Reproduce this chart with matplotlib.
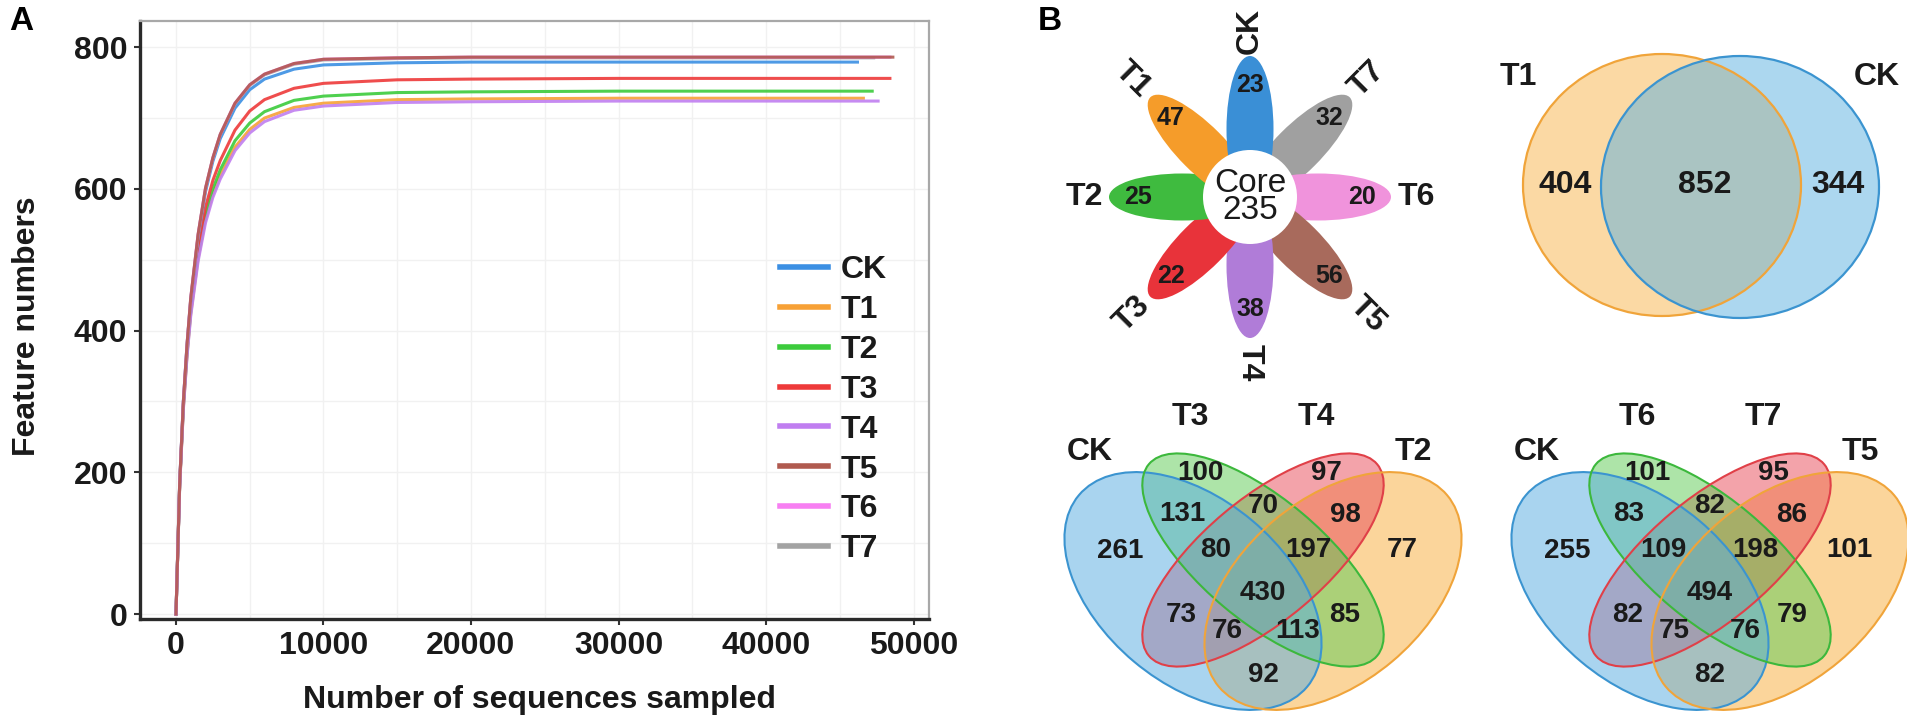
import matplotlib
matplotlib.use('Agg')
import matplotlib.pyplot as plt
from matplotlib.patches import Ellipse, Circle
import numpy as np

plt.rcParams['font.family'] = ['Liberation Sans', 'DejaVu Sans']

# ---------------- data ----------------
groups = ['CK', 'T1', 'T2', 'T3', 'T4', 'T5', 'T6', 'T7']
line_colors = ['#3b8fe3', '#f7a136', '#3ccb3c', '#ee3a3a', '#c07ef0', '#b05a4f', '#f77ff2', '#a3a3a3']

depth_steps = [0, 250, 500, 750, 1000, 1500, 2000, 2500, 3000, 4000, 5000, 6000,
               8000, 10000, 15000, 20000, 30000, 40000]
end_depth = [46200, 46600, 47200, 48400, 47600, 48600, 48400, 47300]

feat_CK = [0, 185, 300, 380, 443, 532, 596, 639, 671, 714, 740, 755, 769, 775, 778, 779, 779, 779, 779]
feat_T1 = [0, 181, 291, 366, 424, 502, 557, 593, 619, 659, 684, 700, 715, 721, 726, 727, 728, 728, 728]
feat_T2 = [0, 182, 293, 369, 428, 507, 563, 600, 627, 668, 693, 709, 725, 731, 736, 737, 738, 738, 738]
feat_T3 = [0, 183, 296, 373, 433, 515, 574, 612, 640, 683, 710, 726, 742, 749, 754, 755, 756, 756, 756]
feat_T4 = [0, 180, 289, 364, 421, 498, 552, 588, 614, 654, 679, 695, 711, 717, 722, 723, 724, 724, 724]
feat_T5 = [0, 185, 300, 381, 446, 536, 601, 644, 677, 721, 747, 762, 777, 783, 785, 786, 786, 786, 786]
feat_T6 = [0, 185, 300, 381, 446, 536, 601, 644, 677, 721, 747, 762, 777, 783, 785, 786, 786, 786, 786]
feat_T7 = [0, 185, 300, 380, 445, 535, 600, 643, 676, 720, 746, 761, 776, 782, 784, 785, 785, 785, 785]
features = [feat_CK, feat_T1, feat_T2, feat_T3, feat_T4, feat_T5, feat_T6, feat_T7]

x_ticks = [0, 10000, 20000, 30000, 40000, 50000]
y_ticks = [0, 200, 400, 600, 800]

# flower
petal_counts = [23, 47, 25, 22, 38, 56, 20, 32]   # CK, T1..T7
core_count = 235
petal_colors = ['#3a8fd6', '#f59c2a', '#3fbb3f', '#e8333a', '#b07cd8', '#a86a5c', '#f093dc', '#a0a0a0']

# two-set venn
venn2_labels = ['T1', 'CK']
venn2_counts = [404, 852, 344]

# four-set venns (regions: A, B, C, D, AB, BC, CD, ABC, BCD, ABCD, AC, BD, ACD, ABD, AD)
venn4a_labels = ['CK', 'T3', 'T4', 'T2']
venn4a_counts = [261, 100, 97, 77, 131, 70, 98, 80, 197, 430, 73, 85, 76, 113, 92]
venn4b_labels = ['CK', 'T6', 'T7', 'T5']
venn4b_counts = [255, 101, 95, 101, 83, 82, 86, 109, 198, 494, 82, 79, 75, 76, 82]

# ---------------- figure ----------------
W, H = 1908, 726
fig = plt.figure(figsize=(W / 100, H / 100), dpi=100)
TXT = '#1a1a1a'

# ---- Panel A ----
L, R, T, B = 140, 929, 21, 619
axA = fig.add_axes([L / W, (H - B) / H, (R - L) / W, (B - T) / H])
zorders = [3, 2, 2, 2, 2, 5, 4, 3]
for g, c, f, e, z in zip(groups, line_colors, features, end_depth, zorders):
    xs = depth_steps + [e]
    axA.plot(xs, f, color=c, lw=2.2, alpha=0.9, zorder=z, label=g)
axA.set_xlim(-2440, 51050)
axA.set_ylim(-7, 837)
axA.set_xticks(x_ticks)
axA.set_yticks(y_ticks)
axA.set_xticks(np.arange(0, 50001, 5000), minor=True)
axA.set_yticks(np.arange(0, 801, 100), minor=True)
axA.grid(which='both', color='#f1f1f1', lw=1.0)
axA.set_axisbelow(True)
for s in ['top', 'right']:
    axA.spines[s].set_color('#a8a8a8')
    axA.spines[s].set_linewidth(1.6)
for s in ['left', 'bottom']:
    axA.spines[s].set_color('#2a2a2a')
    axA.spines[s].set_linewidth(2.4)
axA.tick_params(which='major', length=4, width=1.5, color='#333333', labelsize=23, pad=5,
                labelcolor=TXT)
axA.tick_params(which='minor', length=0)
for lab in axA.get_xticklabels() + axA.get_yticklabels():
    lab.set_fontweight('bold')
axA.set_xlabel('Number of sequences sampled', fontsize=23, fontweight='bold', color=TXT)
axA.set_ylabel('Feature numbers', fontsize=23, fontweight='bold', color=TXT)
axA.xaxis.set_label_coords(0.506, -0.135)
axA.xaxis.label.set_va('center')
axA.yaxis.set_label_coords(-0.143, 0.49)
axA.yaxis.label.set_va('center')
leg = axA.legend(loc='center left', bbox_to_anchor=(0.811, 0.35), frameon=False,
                 fontsize=23, handlelength=1.5, handletextpad=0.4, labelspacing=0.31,
                 borderpad=0, borderaxespad=0)
for h in leg.get_lines():
    h.set_linewidth(4)
    h.set_alpha(1)
for t in leg.get_texts():
    t.set_fontweight('bold')
    t.set_color(TXT)

fig.text(21 / W, 1 - 22 / H, 'A', ha='center', va='center', fontsize=24, fontweight='bold')
fig.text(1050 / W, 1 - 22 / H, 'B', ha='center', va='center', fontsize=24, fontweight='bold')

# ---- Panel B (pixel coordinate overlay) ----
axB = fig.add_axes([0, 0, 1, 1])
axB.set_xlim(0, W)
axB.set_ylim(H, 0)
axB.axis('off')

# flower
fcx, fcy = 1250, 197
petal_angles = [90, 135, 180, 225, 270, 315, 0, 45]
draw_order = [7, 6, 5, 4, 3, 2, 1, 0]
for i in draw_order:
    ang = np.deg2rad(petal_angles[i])
    d = 68
    ex, ey = fcx + d * np.cos(ang), fcy - d * np.sin(ang)
    axB.add_patch(Ellipse((ex, ey), 146, 47, angle=-petal_angles[i],
                          facecolor=petal_colors[i], edgecolor='none', zorder=2))
axB.add_patch(Circle((fcx, fcy), 47, facecolor='white', edgecolor='none', zorder=3))
for i in range(8):
    a = petal_angles[i]
    ang = np.deg2rad(a)
    r = 112
    axB.text(fcx + r * np.cos(ang), fcy - r * np.sin(ang), str(petal_counts[i]),
             ha='center', va='center', fontsize=18, fontweight='bold', color=TXT, zorder=4)
    rl = 166
    rot = a if (a <= 90 or a >= 270) else a - 180
    axB.text(fcx + rl * np.cos(ang), fcy - rl * np.sin(ang), groups[i],
             ha='center', va='center', rotation=rot, rotation_mode='anchor',
             fontsize=23, fontweight='bold', color=TXT, zorder=4)
axB.text(fcx, fcy, 'Core\n' + str(core_count), ha='center', va='center', fontsize=24,
         linespacing=0.85, multialignment='center', color=TXT, zorder=4)

# two-set venn
v2_centers = [(1662, 185), (1740, 187)]
v2_fill = ['#f9b54a', '#5ab0e0']
v2_edge = ['#f0a43a', '#3b94d0']
for (cx, cy), fc in zip(v2_centers, v2_fill):
    axB.add_patch(Ellipse((cx, cy), 278, 262, facecolor=fc, alpha=0.5, edgecolor='none', zorder=2))
for (cx, cy), ec in zip(v2_centers, v2_edge):
    axB.add_patch(Ellipse((cx, cy), 278, 262, facecolor='none', edgecolor=ec, lw=1.6, zorder=3))
for (tx, ty), n in zip([(1565, 185), (1705, 185), (1838, 185)], venn2_counts):
    axB.text(tx, ty, str(n), ha='center', va='center', fontsize=23, fontweight='bold',
             color=TXT, zorder=4)
for (tx, ty), lab in zip([(1518, 77), (1877, 77)], venn2_labels):
    axB.text(tx, ty, lab, ha='center', va='center', fontsize=23, fontweight='bold',
             color=TXT, zorder=4)

# four-set venns
v4_fill = ['#5aaee2', '#62cc58', '#e8505c', '#f9b040']
v4_edge = ['#3b94d0', '#3cb83c', '#e04048', '#f0a43a']
# ellipse geometry relative to venn centre x: (dx, y, width, height, angle)
v4_geom = [(-70, 591, 298, 184, 40), (0, 560, 298, 122, 40),
           (0, 560, 298, 122, -40), (70, 591, 298, 184, -40)]
fill_order = [3, 2, 1, 0]
region_pos = [(-143, 551), (-63, 473), (63, 473), (139, 550), (-81, 514), (0, 506), (82, 515),
              (-47, 550), (45, 550), (0, 593), (-82, 615), (82, 615), (-36, 631), (35, 631), (0, 675)]
label_pos = [(-173, 452), (-73, 417), (53, 417), (150, 452)]


def draw_venn4(x0, labels, counts):
    for k in fill_order:
        dx, cy, w, h, a = v4_geom[k]
        axB.add_patch(Ellipse((x0 + dx, cy), w, h, angle=a, facecolor=v4_fill[k], alpha=0.52,
                              edgecolor='none', zorder=2))
    for (dx, cy, w, h, a), ec in zip(v4_geom, v4_edge):
        axB.add_patch(Ellipse((x0 + dx, cy), w, h, angle=a, facecolor='none',
                              edgecolor=ec, lw=1.5, zorder=3))
    for (dx, y), n in zip(region_pos, counts):
        axB.text(x0 + dx, y, str(n), ha='center', va='center', fontsize=20, fontweight='bold',
                 color=TXT, zorder=4)
    for (dx, y), lab in zip(label_pos, labels):
        axB.text(x0 + dx, y, lab, ha='center', va='center', fontsize=23, fontweight='bold',
                 color=TXT, zorder=4)


draw_venn4(1263, venn4a_labels, venn4a_counts)
draw_venn4(1710, venn4b_labels, venn4b_counts)

fig.savefig('out.png', dpi=100)
